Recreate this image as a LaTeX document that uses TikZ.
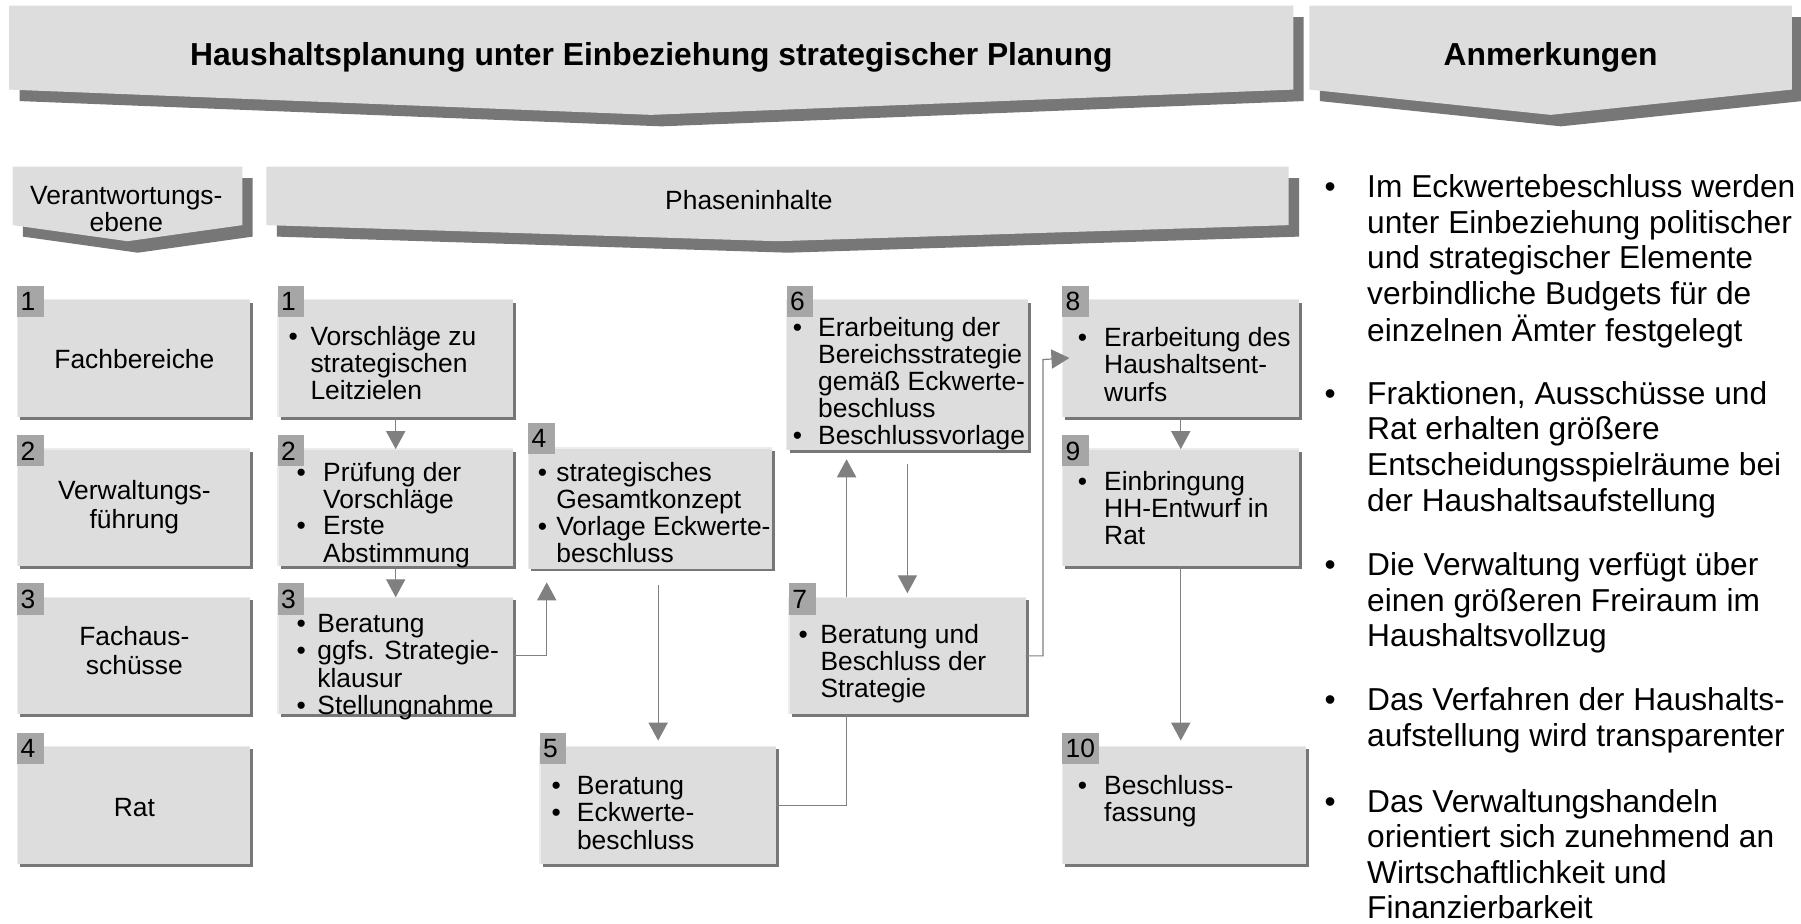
\documentclass[tikz,border=0pt]{standalone}
\usepackage{fontspec}
\setmainfont{Liberation Sans}
\usetikzlibrary{arrows.meta,fit,calc}

\definecolor{panel}{HTML}{DDDDDD}
\definecolor{shadowgrey}{HTML}{777777}
\definecolor{tabfill}{HTML}{A6A6A6}
\definecolor{link}{HTML}{808080}
\definecolor{gleam}{HTML}{ECECEC}

\newlength\upx
\setlength\upx{0.5743pt}
\newcommand\boxfont{\fontsize{13.2pt}{13.3pt}\selectfont}
\newcommand\levelfont{\fontsize{13.2pt}{14.6pt}\selectfont}
\newcommand\notefont{\fontsize{15.85pt}{17.8pt}\selectfont}
\newcommand\titlefont{\fontsize{15.9pt}{18pt}\selectfont\bfseries}
\newcommand\bul[1]{\makebox[#1\upx][l]{•}}

% chevron banner with its drop shadow: x1, x2, top, side bottom, tip
\newcommand\banner[5]{%
  \fill[shadowgrey] ({#1+9},{#3+10}) -- ({#2+9},{#3+10}) -- ({#2+9},{#4+10})
     -- ({(#1+#2)/2+9},{#5+10}) -- ({#1+9},{#4+10}) -- cycle;
  \fill[panel] (#1,#3) -- (#2,#3) -- (#2,#4) -- ({(#1+#2)/2},#5) -- (#1,#4) -- cycle;
}

% process box: name, x1, y1, x2, y2, number, tab width, tab top
\newcommand\stepbox[8]{%
  \fill[shadowgrey] ({#2+2.5},{#3+2.5}) rectangle ({#4+2.5},{#5+2.5});
  \node[fit={(#2,#3)(#4,#5)}, inner sep=0pt, outer sep=0pt, fill=panel] (#1) {};
  \draw[gleam, line width=0.7pt] (#2,#5) -- (#2,#3) -- (#4,#3);
  \fill[tabfill] (#2,#8) rectangle ({#2+#7},{#8+27});
  \node[tabnum] (#1-n) at ({#2+2.5},{#8+21.5}) {#6};
}

\begin{document}
\begin{tikzpicture}[x=0.5743pt, y=-0.5743pt,
  tabnum/.style={anchor=base west, inner sep=0pt, font=\boxfont},
  boxtext/.style={anchor=base west, inner sep=0pt, font=\boxfont},
  leveltext/.style={anchor=base, inner sep=0pt, font=\levelfont},
  notetext/.style={anchor=base west, inner sep=0pt, font=\notefont},
  link/.style={draw=link, line width=0.6pt, -{Triangle[width=9.6pt,length=9pt]}},
  plainlink/.style={draw=link, line width=0.6pt}]
\useasboundingbox (0,0) rectangle (1568,804);

% banners
\banner{8}{1126}{5}{78}{100}
\banner{1140}{1560}{5}{78}{100}
\banner{11}{211}{145}{196}{210}
\banner{232}{1122}{145}{196}{210}

\node[anchor=base, inner sep=0pt, font=\titlefont] (title) at (567,57)
  {Haushaltsplanung unter Einbeziehung strategischer Planung};
\node[anchor=base, inner sep=0pt, font=\titlefont] (notes) at (1350,57) {Anmerkungen};
\node[leveltext, font=\fontsize{13.2pt}{12.6pt}\selectfont] (levelhead) at (110,178)
  {\begin{tabular}[t]{@{}c@{}}Verantwortungs-\\ebene\end{tabular}};
\node[leveltext] (phasehead) at (652,182) {Phaseninhalte};

% responsibility levels
\stepbox{l1}{15}{261}{218}{363}{1}{23}{249}
\stepbox{l2}{15}{391}{218}{493}{2}{23}{379}
\stepbox{l3}{15}{520}{218}{622}{3}{23}{508}
\stepbox{l4}{15}{650}{218}{752}{4}{23}{638}

\node[leveltext] (l1-t) at (117,321) {Fachbereiche};
\node[leveltext] (l2-t) at (117,435) {\begin{tabular}[t]{@{}c@{}}Verwaltungs-\\führung\end{tabular}};
\node[leveltext] (l3-t) at (117,562) {\begin{tabular}[t]{@{}c@{}}Fachaus-\\schüsse\end{tabular}};
\node[leveltext] (l4-t) at (117,711) {Rat};

% phase contents
\stepbox{m1}{242}{261}{447}{363}{1}{23}{249}
\stepbox{m2}{242}{391}{447}{493}{2}{23}{379}
\stepbox{m3}{242}{520}{447}{622}{3}{23}{508}
\stepbox{b4}{460}{390}{672}{495}{4}{23}{368}
\stepbox{b5}{470}{650}{676}{752}{5}{23}{638}
\stepbox{b6}{685}{261}{895}{392}{6}{23}{249}
\stepbox{b7}{687}{520}{893}{622}{7}{23}{508}
\stepbox{b8}{925}{261}{1131}{363}{8}{23}{249}
\stepbox{b9}{925}{391}{1131}{493}{9}{23}{379}
\stepbox{b10}{925}{650}{1137}{752}{10}{32}{638}

\node[boxtext] (m1-t) at (251,301) {\begin{tabular}[t]{@{}l@{}l@{}}
  \bul{19} & Vorschläge zu\\ & strategischen\\ & Leitzielen\end{tabular}};
\node[boxtext] (m2-t) at (258,419) {\begin{tabular}[t]{@{}l@{}l@{}}
  \bul{23} & Prüfung der\\ & Vorschläge\\ \bul{23} & Erste\\ & Abstimmung\end{tabular}};
\node[boxtext] (m3-t) at (258,551) {\begin{tabular}[t]{@{}l@{}l@{}}
  \bul{18} & Beratung\\ \bul{18} & ggfs. Strategie-\\ & klausur\\ \bul{18} & Stellungnahme\end{tabular}};
\node[boxtext] (b4-t) at (468,419) {\begin{tabular}[t]{@{}l@{}l@{}}
  \bul{16} & strategisches\\ & Gesamtkonzept\\ \bul{16} & Vorlage Eckwerte-\\ & beschluss\end{tabular}};
\node[boxtext] (b5-t) at (480,692) {\begin{tabular}[t]{@{}l@{}l@{}}
  \bul{22} & Beratung\\ \bul{22} & Eckwerte-\\ & beschluss\end{tabular}};
\node[boxtext] (b6-t) at (690,293) {\begin{tabular}[t]{@{}l@{}l@{}}
  \bul{22} & Erarbeitung der\\ & Bereichsstrategie\\ & gemäß Eckwerte-\\ & beschluss\\ \bul{22} & Beschlussvorlage\end{tabular}};
\node[boxtext] (b7-t) at (695,560) {\begin{tabular}[t]{@{}l@{}l@{}}
  \bul{19} & Beratung und\\ & Beschluss der\\ & Strategie\end{tabular}};
\node[boxtext] (b8-t) at (938,302) {\begin{tabular}[t]{@{}l@{}l@{}}
  \bul{23} & Erarbeitung des\\ & Haushaltsent-\\ & wurfs\end{tabular}};
\node[boxtext] (b9-t) at (938,427) {\begin{tabular}[t]{@{}l@{}l@{}}
  \bul{23} & Einbringung\\ & HH-Entwurf in\\ & Rat\end{tabular}};
\node[boxtext] (b10-t) at (938,692) {\begin{tabular}[t]{@{}l@{}l@{}}
  \bul{23} & Beschluss-\\ & fassung\end{tabular}};

% connectors
\draw[link] (m1.south) -- (m2.north);
\draw[link] (m2.south) -- (m3.north);
\coordinate (k34) at (476,507);
\draw[link] (m3.east) -| (k34);
\draw[link, shorten <=8pt, shorten >=3pt] (b5.north |- b4.south) -- (b5.north);
\coordinate (k57) at ($(b7.south west)!0.243!(b7.south east)$);
\draw[plainlink] (b5.east) -| (k57);
\coordinate (k76) at ($(b7.north west)!0.243!(b7.north east)$);
\draw[link, shorten >=4.5pt] (k76) -- (k76 |- b6.south);
\draw[link, shorten <=7pt, shorten >=2pt] (b6.south) -- (b6.south |- b7.north);
\coordinate (k78) at (908,313);
\draw[link, shorten >=-3.5pt] (b7.east) -| (k78) -- (b8.west);
\draw[link] (b8.south) -- (b9.north);
\draw[link, shorten >=3pt] (b9.south) -- (b9.south |- b10.north);

% remarks
\node[notetext] (n1) at (1153,172) {\begin{tabular}[t]{@{}l@{}l@{}}
  \bul{37} & Im Eckwertebeschluss werden\\ & unter Einbeziehung politischer\\
  & und strategischer Elemente\\ & verbindliche Budgets für de\\ & einzelnen Ämter festgelegt\end{tabular}};
\node[notetext] (n2) at (1153,352) {\begin{tabular}[t]{@{}l@{}l@{}}
  \bul{37} & Fraktionen, Ausschüsse und\\ & Rat erhalten größere\\
  & Entscheidungsspielräume bei\\ & der Haushaltsaufstellung\end{tabular}};
\node[notetext] (n3) at (1153,501) {\begin{tabular}[t]{@{}l@{}l@{}}
  \bul{37} & Die Verwaltung verfügt über\\ & einen größeren Freiraum im\\ & Haushaltsvollzug\end{tabular}};
\node[notetext] (n4) at (1153,619) {\begin{tabular}[t]{@{}l@{}l@{}}
  \bul{37} & Das Verfahren der Haushalts-\\ & aufstellung wird transparenter\end{tabular}};
\node[notetext] (n5) at (1153,707) {\begin{tabular}[t]{@{}l@{}l@{}}
  \bul{37} & Das Verwaltungshandeln\\ & orientiert sich zunehmend an\\
  & Wirtschaftlichkeit und\\ & Finanzierbarkeit\end{tabular}};
\end{tikzpicture}
\end{document}
